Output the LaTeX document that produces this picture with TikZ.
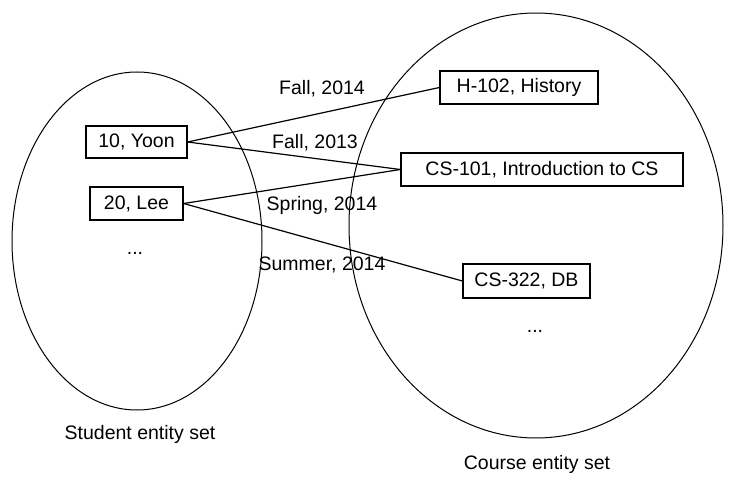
\documentclass[tikz,border=0pt]{standalone}
\usepackage{fontspec}
\setmainfont{Liberation Sans}
\begin{document}
\begin{tikzpicture}[x=1pt,y=-1pt,
  ent/.style={draw, line width=1.2pt, inner sep=0pt, font=\fontsize{19.5}{21}\selectfont},
  lbl/.style={inner sep=0pt, font=\fontsize{19.5}{21}\selectfont},
  conn/.style={line width=1.2pt},
  setell/.style={draw, line width=1pt}]
\useasboundingbox (0,0) rectangle (740,484);
\draw[setell] (137,241) ellipse [x radius=125, y radius=169];
\draw[setell] (536,225.5) ellipse [x radius=187, y radius=212.5];
\node[ent, minimum width=101pt, minimum height=32pt] (yoon) at (136.5,142) {10, Yoon};
\node[ent, minimum width=93pt, minimum height=33pt] (lee) at (136.5,203.5) {20, Lee};
\node[lbl] (ldots) at (135,253) {...};
\node[ent, minimum width=158pt, minimum height=33pt] (h102) at (519,87.5) {H-102, History};
\node[ent, minimum width=282pt, minimum height=33pt] (cs101) at (542,169.5) {CS-101, Introduction to CS};
\node[ent, minimum width=127pt, minimum height=34pt] (cs322) at (526.5,281) {CS-322, DB};
\node[lbl] (rdots) at (535,331) {...};
\draw[conn] (yoon.east) -- (h102.west);
\draw[conn] (yoon.east) -- (cs101.west);
\draw[conn] (lee.east) -- (cs101.west);
\draw[conn] (lee.east) -- (cs322.west);
\node[lbl] (f14) at (322,89) {Fall, 2014};
\node[lbl] (f13) at (315,143) {Fall, 2013};
\node[lbl] (s14) at (322,205) {Spring, 2014};
\node[lbl] (su14) at (322,265) {Summer, 2014};
\node[lbl] (stu) at (140,434) {Student entity set};
\node[lbl] (crs) at (537,464) {Course entity set};
\end{tikzpicture}
\end{document}
